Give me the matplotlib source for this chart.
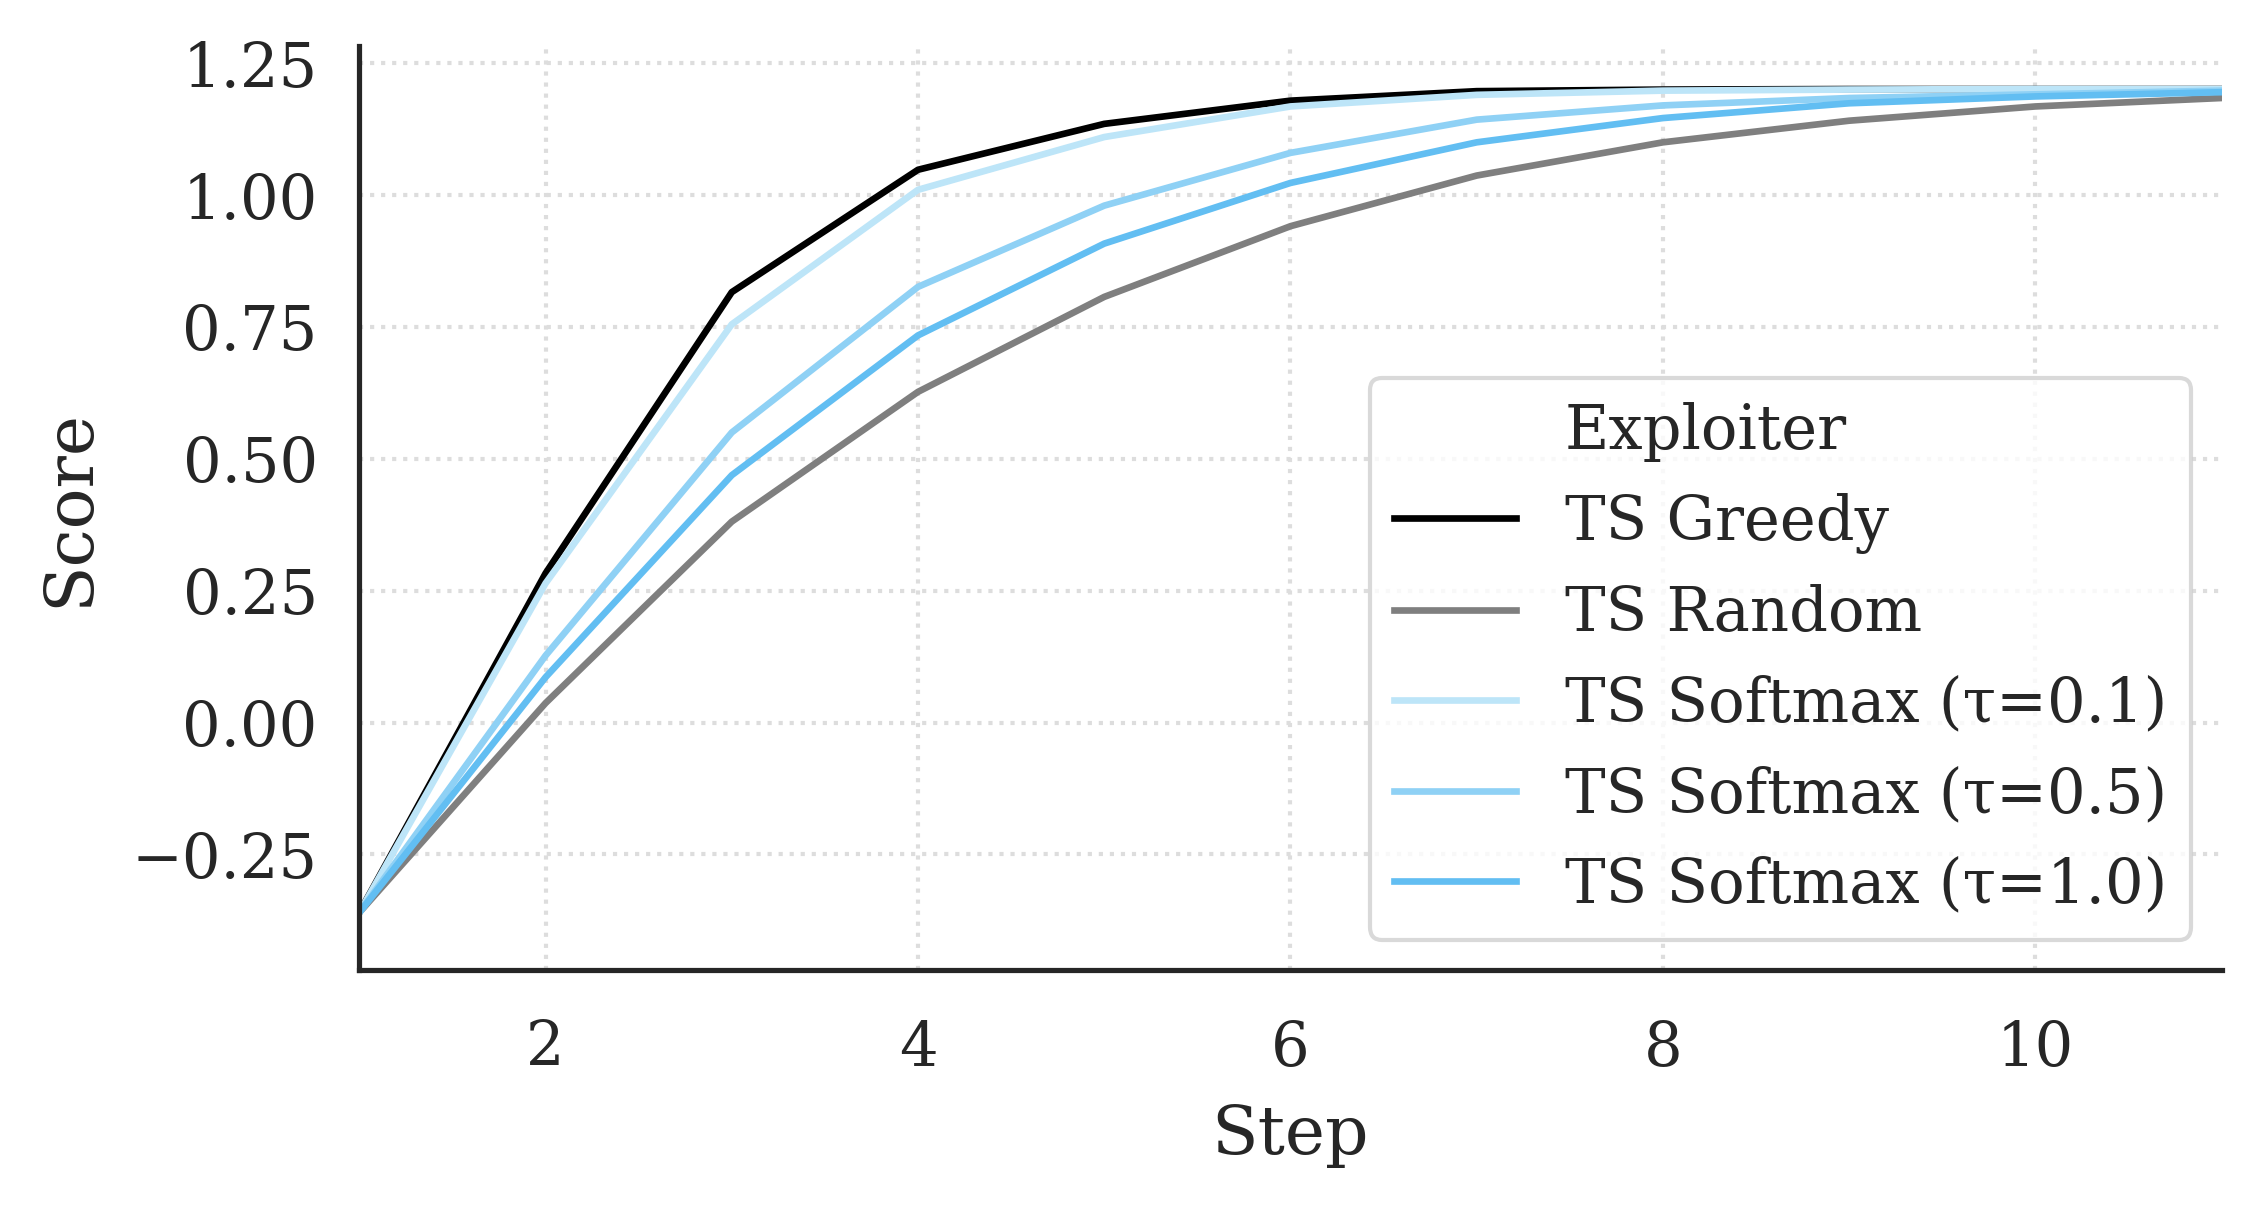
import matplotlib
matplotlib.use("Agg")
import matplotlib.pyplot as plt
from matplotlib.lines import Line2D

# values
steps = [1, 2, 3, 4, 5, 6, 7, 8, 9, 10, 11]
ts_greedy = [-0.36, 0.283, 0.816, 1.048, 1.135, 1.179, 1.197, 1.200, 1.201, 1.201, 1.201]
ts_random = [-0.36, 0.037, 0.381, 0.627, 0.807, 0.941, 1.037, 1.100, 1.141, 1.168, 1.184]
ts_soft_01 = [-0.36, 0.264, 0.755, 1.010, 1.110, 1.168, 1.190, 1.198, 1.200, 1.201, 1.201]
ts_soft_05 = [-0.36, 0.127, 0.550, 0.826, 0.980, 1.080, 1.143, 1.170, 1.184, 1.191, 1.198]
ts_soft_10 = [-0.36, 0.086, 0.469, 0.734, 0.908, 1.023, 1.100, 1.146, 1.174, 1.187, 1.195]

labels = ['TS Greedy', 'TS Random', 'TS Softmax (τ=0.1)', 'TS Softmax (τ=0.5)', 'TS Softmax (τ=1.0)']
colors = ['#000000', '#7f7f7f', '#bde5f8', '#8fd1f5', '#62bef2']
series = [ts_greedy, ts_random, ts_soft_01, ts_soft_05, ts_soft_10]

plt.rcParams['font.family'] = ['DejaVu Serif']
text_col = '#262626'

fig = plt.figure(figsize=(2260 / 300, 1205 / 300), dpi=300)
ax = fig.add_axes([0.159, 0.195, 0.824, 0.767])

for vals, lab, col in zip(series, labels, colors):
    ax.plot(steps, vals, color=col, lw=1.6, label=lab)

ax.set_xlim(1, 11)
ax.set_ylim(-0.469, 1.283)
ax.set_xticks([2, 4, 6, 8, 10])
ax.set_yticks([-0.25, 0.0, 0.25, 0.5, 0.75, 1.0, 1.25])
ax.yaxis.set_major_formatter(matplotlib.ticker.FuncFormatter(
    lambda v, p: ('\u2212' if v < 0 else '') + '%.2f' % abs(v)))

ax.grid(True, ls=':', color='#dddddd', lw=1.0)
ax.set_axisbelow(True)
for s in ['top', 'right']:
    ax.spines[s].set_visible(False)
for s in ['left', 'bottom']:
    ax.spines[s].set_color(text_col)
    ax.spines[s].set_linewidth(1.25)
ax.tick_params(length=0, labelsize=14.6, colors=text_col)
ax.tick_params(axis='x', pad=11.5)
ax.tick_params(axis='y', pad=10)
ax.set_xlabel('Step', fontsize=16.3, color=text_col, labelpad=6)
ax.set_ylabel('Score', fontsize=16.3, color=text_col, labelpad=7)

# seaborn-style legend: the title sits as a blank entry
handles, labs = ax.get_legend_handles_labels()
blank = Line2D([], [], color='none')
leg = ax.legend([blank] + handles, ['Exploiter'] + labs, loc='lower right',
                fontsize=14.6, frameon=True, fancybox=True)
leg.get_frame().set_edgecolor('#d0d0d0')
leg.get_frame().set_linewidth(1.0)
for t in leg.get_texts():
    t.set_color(text_col)

fig.savefig('out.png', dpi=300)
